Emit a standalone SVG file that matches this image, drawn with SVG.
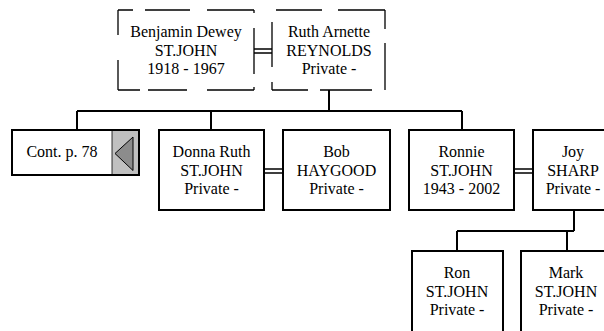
<svg xmlns="http://www.w3.org/2000/svg" width="604" height="331" viewBox="0 0 604 331">
<style>
text{font-family:'Liberation Serif','Times New Roman',Times,serif;font-size:16px;fill:#000;text-anchor:middle}
.box{fill:#fff;stroke:#000;stroke-width:2}
.dash{fill:none;stroke:#000;stroke-width:1.3}
.con{fill:none;stroke:#000;stroke-width:2}
.dbl{fill:none;stroke:#000;stroke-width:1.3}
</style>
<rect width="604" height="331" fill="#fff"/>
<g id="connectors">
<path class="con" d="M329,90V111M77,111H462M77,111V130M211,111V130M462,111V130"/>
<path class="con" d="M574,210V231M457,231H574M457,231V251M567,231V251"/>
<path class="dbl" d="M254,49H272M254,53H272"/>
<path class="dbl" d="M264,169H283M264,173H283"/>
<path class="dbl" d="M514,169H533M514,173H533"/>
</g>
<g id="benjamin">
<rect x="118" y="10" width="136" height="80" fill="#fff"/>
<path class="dash" d="M118,10H133M145,10H190M207,10H254M254,10V13M254,28V74M254,87V90M118,90H140M148,90H187M207,90H254M118,10V35M118,60V90"/>
<text x="186" y="37">Benjamin Dewey</text>
<text x="186" y="56">ST.JOHN</text>
<text x="186" y="74">1918 - 1967</text>
</g>
<g id="ruth">
<rect x="272" y="10" width="113" height="80" fill="#fff"/>
<path class="dash" d="M276,10H322M338,10H385M385,10V29M385,43V90M272,90H308M320,90H372M272,22V67M272,82V90"/>
<text x="329" y="37">Ruth Arnette</text>
<text x="329" y="56">REYNOLDS</text>
<text x="329" y="74">Private -</text>
</g>
<g id="cont">
<rect class="box" x="12" y="130" width="127" height="45"/>
<rect x="112" y="131" width="26" height="43" fill="#c0c0c0"/>
<path d="M112,131V174" stroke="#000" stroke-width="0.8"/>
<polygon points="115,153.5 133,137 133,170.5" fill="#8c8c8c" stroke="#000" stroke-width="1"/>
<text x="62" y="157">Cont. p. 78</text>
</g>
<g id="donna">
<rect class="box" x="159" y="130" width="105" height="80"/>
<text x="211.5" y="157">Donna Ruth</text>
<text x="211.5" y="176">ST.JOHN</text>
<text x="211.5" y="194">Private -</text>
</g>
<g id="bob">
<rect class="box" x="283" y="130" width="107" height="80"/>
<text x="336.5" y="157">Bob</text>
<text x="336.5" y="176">HAYGOOD</text>
<text x="336.5" y="194">Private -</text>
</g>
<g id="ronnie">
<rect class="box" x="409" y="130" width="105" height="80"/>
<text x="461.5" y="157">Ronnie</text>
<text x="461.5" y="176">ST.JOHN</text>
<text x="461.5" y="194">1943 - 2002</text>
</g>
<g id="joy">
<rect class="box" x="533" y="130" width="82" height="80"/>
<text x="573" y="157">Joy</text>
<text x="573" y="176">SHARP</text>
<text x="573" y="194">Private -</text>
</g>
<g id="ron">
<rect class="box" x="412" y="251" width="91" height="82"/>
<text x="457" y="278">Ron</text>
<text x="457" y="297">ST.JOHN</text>
<text x="457" y="315">Private -</text>
</g>
<g id="mark">
<rect class="box" x="521" y="251" width="92" height="82"/>
<text x="566" y="278">Mark</text>
<text x="566" y="297">ST.JOHN</text>
<text x="566" y="315">Private -</text>
</g>
</svg>
